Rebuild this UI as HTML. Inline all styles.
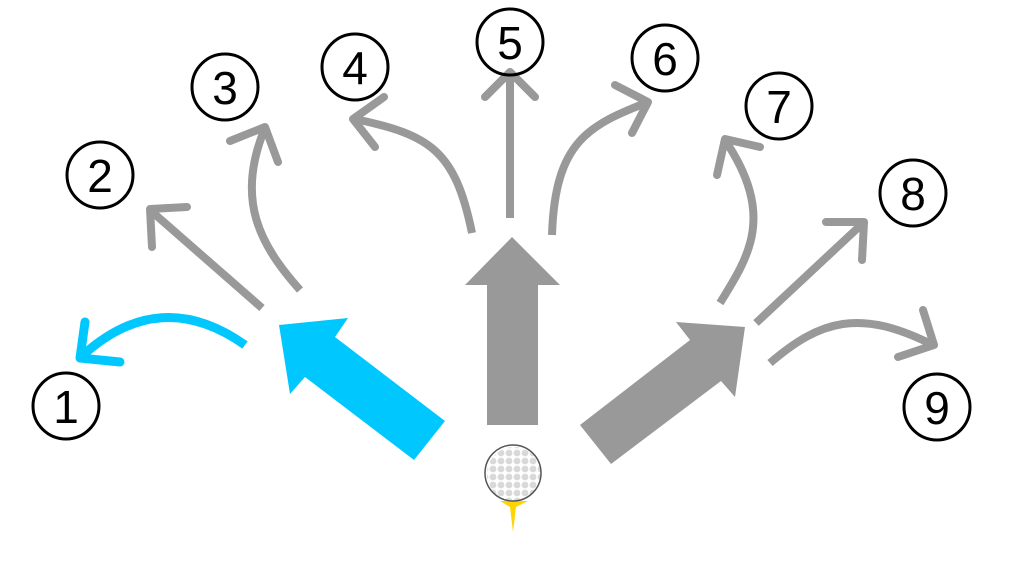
<!DOCTYPE html>
<html><head><meta charset="utf-8"><style>html,body{margin:0;padding:0;background:#fff}svg{display:block}</style></head>
<body>
<svg width="1024" height="561" viewBox="0 0 1024 561" xmlns="http://www.w3.org/2000/svg">
<defs>
<clipPath id="ball"><circle cx="513" cy="473" r="27"/></clipPath>
<pattern id="dots" x="0" y="0" width="8" height="8" patternUnits="userSpaceOnUse"><circle cx="4" cy="4" r="3.4" fill="#d9d9d9"/></pattern>
</defs>
<g fill="none" stroke="#999" stroke-width="8" stroke-linecap="round" stroke-linejoin="round">
<path d="M262,308 L150,210" stroke-linecap="butt"/>
<path d="M187,207 L150,209 L152,247"/>
<path d="M300,290 C260,245 235,200 265,128" stroke-linecap="butt"/>
<path d="M230,141 L265,127 L278,162"/>
<path d="M472,233 C455,150 430,135 355,119" stroke-linecap="butt"/>
<path d="M384,97 L353,119 L375,147"/>
<path d="M510,218 L510,76" stroke-linecap="butt"/>
<path d="M485,97 L510,72 L535,97"/>
<path d="M552,235 C555,140 590,125 648,102" stroke-linecap="butt"/>
<path d="M615,85 L648,102 L632,133"/>
<path d="M720,303 C750,255 775,215 725,140" stroke-linecap="butt"/>
<path d="M760,147 L725,139 L717,175"/>
<path d="M756,323 L862,224" stroke-linecap="butt"/>
<path d="M826,222 L864,222 L862,260"/>
<path d="M770,363 C820,320 860,308 933,345" stroke-linecap="butt"/>
<path d="M898,357 L934,345 L923,310"/>
</g>
<g fill="none" stroke="#00c8ff" stroke-width="9" stroke-linecap="round" stroke-linejoin="round">
<path d="M245,345 Q160,285 82,356" stroke-linecap="butt"/>
<path d="M85,322 L80,358 L120,362"/>
</g>
<polygon points="279,325 348,318 335,337 445,421 414,460 305,377 290,394" fill="#00c8ff"/>
<polygon points="512,237 560,285 538,285 538,425 487,425 487,285 465,285" fill="#999"/>
<polygon points="745,327 735,397 721,381 611,464 580,425 690,340 676,322" fill="#999"/>
<polygon points="500,501 528,501 516,507 513,532 510,507" fill="#ffd400"/>
<circle cx="513" cy="473" r="28" fill="#fff"/>
<rect x="480" y="440" width="66" height="66" fill="url(#dots)" clip-path="url(#ball)" transform="translate(1,1)"/>
<circle cx="513" cy="473" r="28" fill="none" stroke="#555" stroke-width="1.5"/>
<g fill="none" stroke="#000" stroke-width="3">
<circle cx="66" cy="406" r="33"/>
<circle cx="100" cy="175" r="33"/>
<circle cx="225" cy="87" r="33"/>
<circle cx="355" cy="67" r="33"/>
<circle cx="510" cy="42" r="33"/>
<circle cx="665" cy="58" r="33"/>
<circle cx="779" cy="106" r="33"/>
<circle cx="913" cy="193" r="33"/>
<circle cx="937" cy="407" r="33"/>
</g>
<g font-family="Liberation Sans, sans-serif" font-size="46" text-anchor="middle" fill="#000">
<text x="66" y="423">1</text>
<text x="100" y="192">2</text>
<text x="225" y="104">3</text>
<text x="355" y="84">4</text>
<text x="510" y="59">5</text>
<text x="665" y="75">6</text>
<text x="779" y="123">7</text>
<text x="913" y="210">8</text>
<text x="937" y="424">9</text>
</g>
</svg>
</body></html>
